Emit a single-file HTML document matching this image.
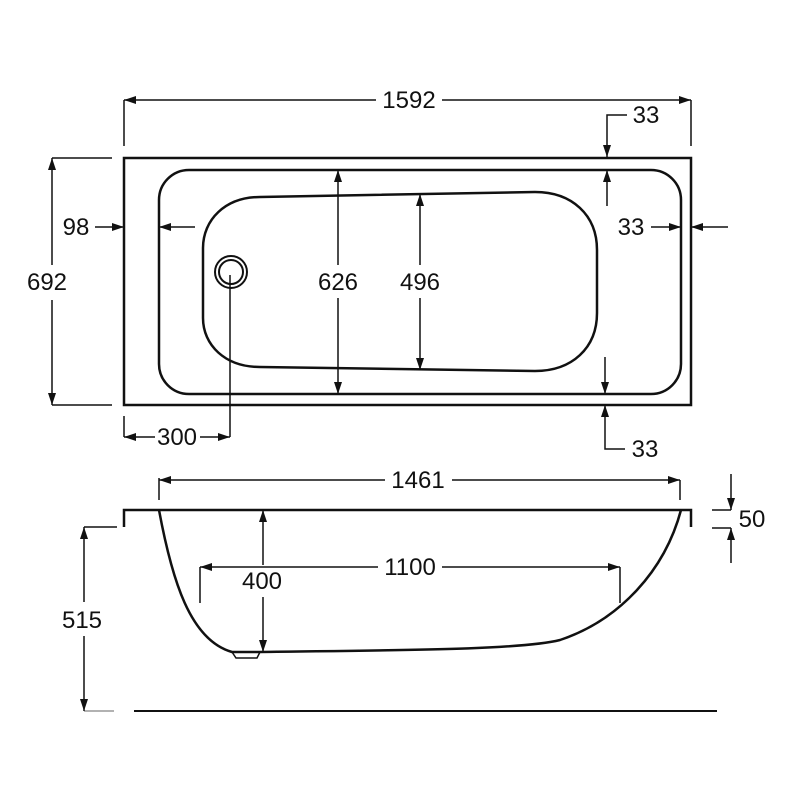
<!DOCTYPE html>
<html><head><style>body{margin:0;background:#fff}svg{display:block}</style></head><body>
<svg width="800" height="800" viewBox="0 0 800 800" xmlns="http://www.w3.org/2000/svg" font-family="Liberation Sans, sans-serif" font-size="24" fill="none" stroke="#111" stroke-width="2">
<defs>
<marker id="a" viewBox="0 0 12 8" refX="12" refY="4" markerWidth="12" markerHeight="8" markerUnits="userSpaceOnUse" orient="auto"><path d="M0,0 L12,4 L0,8 Z" fill="#111" stroke="none"/></marker>
</defs>
<rect x="124" y="158" width="567" height="247" stroke-width="2.5"/>
<rect x="159" y="170" width="522" height="224" rx="30" stroke-width="2.5"/>
<path d="M260,197 L535,192 C572,192 597,215 597,250 L597,313 C597,348 572,371 535,371 L260,367 C225,367 203,345 203,318 L203,248 C203,220 225,197 260,197 Z" stroke-width="2.5"/>
<circle cx="231" cy="272" r="16"/><circle cx="231" cy="272" r="12"/>
<line x1="124" y1="100" x2="124" y2="146" stroke-width="1.5"/><line x1="691" y1="100" x2="691" y2="146" stroke-width="1.5"/>
<line x1="376" y1="100" x2="124" y2="100" stroke-width="1.5" marker-end="url(#a)"/><line x1="442" y1="100" x2="691" y2="100" stroke-width="1.5" marker-end="url(#a)"/>
<line x1="52" y1="158" x2="112" y2="158" stroke-width="1.5"/><line x1="52" y1="405" x2="112" y2="405" stroke-width="1.5"/>
<line x1="52" y1="265" x2="52" y2="158" stroke-width="1.5" marker-end="url(#a)"/><line x1="52" y1="300" x2="52" y2="405" stroke-width="1.5" marker-end="url(#a)"/>
<line x1="95" y1="227" x2="124" y2="227" stroke-width="1.5" marker-end="url(#a)"/><line x1="195" y1="227" x2="159" y2="227" stroke-width="1.5" marker-end="url(#a)"/>
<line x1="338" y1="265" x2="338" y2="170" stroke-width="1.5" marker-end="url(#a)"/><line x1="338" y1="298" x2="338" y2="394" stroke-width="1.5" marker-end="url(#a)"/>
<line x1="420" y1="265" x2="420" y2="194" stroke-width="1.5" marker-end="url(#a)"/><line x1="420" y1="298" x2="420" y2="370" stroke-width="1.5" marker-end="url(#a)"/>
<path d="M627,115 L607,115 L607,157" stroke-width="1.5" marker-end="url(#a)"/>
<line x1="607" y1="206" x2="607" y2="170" stroke-width="1.5" marker-end="url(#a)"/>
<line x1="651" y1="227" x2="681" y2="227" stroke-width="1.5" marker-end="url(#a)"/><line x1="728" y1="227" x2="691" y2="227" stroke-width="1.5" marker-end="url(#a)"/>
<line x1="605" y1="357" x2="605" y2="394" stroke-width="1.5" marker-end="url(#a)"/>
<path d="M625,449 L605,449 L605,405" stroke-width="1.5" marker-end="url(#a)"/>
<line x1="124" y1="416" x2="124" y2="437" stroke-width="1.5"/><line x1="230" y1="275" x2="230" y2="437" stroke-width="1.5"/>
<line x1="155" y1="437" x2="124" y2="437" stroke-width="1.5" marker-end="url(#a)"/><line x1="200" y1="437" x2="230" y2="437" stroke-width="1.5" marker-end="url(#a)"/>
<path d="M124,527 L124,510 L691,510 L691,527" stroke-width="2.5"/>
<path d="M159,510 C172,580 190,640 232,652 L260,652 C400,650 520,650 560,640 C620,620 665,570 681,510" stroke-width="2.5"/>
<path d="M232,652 L236,658 L257,658 L260,652" stroke-width="1.5"/>
<line x1="159" y1="478" x2="159" y2="500" stroke-width="1.5"/><line x1="680" y1="480" x2="680" y2="500" stroke-width="1.5"/>
<line x1="385" y1="480" x2="159" y2="480" stroke-width="1.5" marker-end="url(#a)"/><line x1="452" y1="480" x2="680" y2="480" stroke-width="1.5" marker-end="url(#a)"/>
<line x1="263" y1="565" x2="263" y2="510" stroke-width="1.5" marker-end="url(#a)"/><line x1="263" y1="597" x2="263" y2="652" stroke-width="1.5" marker-end="url(#a)"/>
<line x1="200" y1="567" x2="200" y2="603" stroke-width="1.5"/><line x1="620" y1="567" x2="620" y2="603" stroke-width="1.5"/>
<line x1="378" y1="567" x2="200" y2="567" stroke-width="1.5" marker-end="url(#a)"/><line x1="442" y1="567" x2="620" y2="567" stroke-width="1.5" marker-end="url(#a)"/>
<line x1="712" y1="510" x2="731" y2="510" stroke-width="1.5"/><line x1="712" y1="528" x2="731" y2="528" stroke-width="1.5"/>
<line x1="731" y1="474" x2="731" y2="510" stroke-width="1.5" marker-end="url(#a)"/><line x1="731" y1="563" x2="731" y2="528" stroke-width="1.5" marker-end="url(#a)"/>
<line x1="84" y1="527" x2="117" y2="527" stroke-width="1.5"/><line x1="84" y1="711" x2="114" y2="711" stroke="#999" stroke-width="1.5"/>
<line x1="84" y1="602" x2="84" y2="527" stroke-width="1.5" marker-end="url(#a)"/><line x1="84" y1="636" x2="84" y2="711" stroke-width="1.5" marker-end="url(#a)"/>
<line x1="134" y1="711" x2="717" y2="711" stroke-width="2"/>
<g fill="#111" stroke="none" text-anchor="middle">
<text x="409" y="108">1592</text>
<text x="47" y="290">692</text>
<text x="76" y="235">98</text>
<text x="338" y="290">626</text>
<text x="420" y="290">496</text>
<text x="646" y="123">33</text>
<text x="631" y="235">33</text>
<text x="645" y="457">33</text>
<text x="177" y="445">300</text>
<text x="418" y="488">1461</text>
<text x="262" y="589">400</text>
<text x="410" y="575">1100</text>
<text x="752" y="527">50</text>
<text x="82" y="628">515</text>
</g>
</svg>
</body></html>
